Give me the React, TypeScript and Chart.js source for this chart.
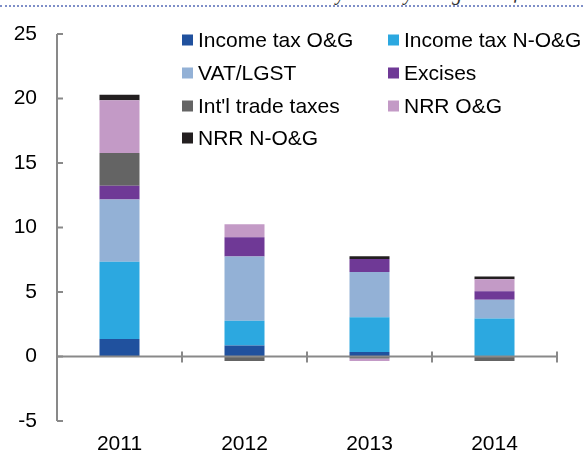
import React, { useEffect, useRef } from "react";
import { Chart, registerables } from "chart.js";

Chart.register(...registerables);

const categories = ["2011", "2012", "2013", "2014"];
const incomeTaxOG = [1.35, 0.85, 0.35, 0];
const incomeTaxNOG = [6.0, 1.93, 2.7, 2.95];
const vatLGST = [4.83, 4.98, 3.5, 1.45];
const excises = [1.05, 1.49, 1.0, 0.65];
const intlTrade = [2.55, -0.35, -0.15, -0.35];
const nrrOG = [4.08, 1.0, -0.2, 0.93];
const nrrNOG = [0.44, 0, 0.23, 0.23];

const yMin = -5;
const yMax = 25;
const yStep = 5;

const seriesNames = [
  "Income tax O&G",
  "Income tax N-O&G",
  "VAT/LGST",
  "Excises",
  "Int'l trade taxes",
  "NRR O&G",
  "NRR N-O&G",
];
const seriesColors = [
  "#20519E",
  "#2CA8E0",
  "#93B1D6",
  "#6F3996",
  "#646464",
  "#C39AC6",
  "#231F20",
];

const FONT = "'Liberation Sans', Arial, sans-serif";
const FS = 21;
const AXIS = "#898989";

const axesPlugin = {
  id: "customAxes",
  afterDatasetsDraw(chart: any) {
    const { ctx, chartArea, scales } = chart;
    const y = scales.y;
    const y0 = y.getPixelForValue(0);
    ctx.save();
    ctx.strokeStyle = AXIS;
    ctx.lineWidth = 2;
    ctx.beginPath();
    ctx.moveTo(chartArea.left, y.getPixelForValue(yMax));
    ctx.lineTo(chartArea.left, y.getPixelForValue(yMin));
    ctx.stroke();
    for (let v = yMin; v <= yMax; v += yStep) {
      const py = y.getPixelForValue(v);
      ctx.beginPath();
      ctx.moveTo(chartArea.left, py);
      ctx.lineTo(chartArea.left + 6, py);
      ctx.stroke();
    }
    ctx.beginPath();
    ctx.moveTo(chartArea.left, y0);
    ctx.lineTo(chartArea.right, y0);
    ctx.stroke();
    const n = categories.length;
    const w = (chartArea.right - chartArea.left) / n;
    for (let i = 1; i <= n; i++) {
      const px = chartArea.left + i * w;
      ctx.beginPath();
      ctx.moveTo(px, y0 - 5);
      ctx.lineTo(px, y0 + 6);
      ctx.stroke();
    }
    ctx.restore();
  },
};

const legendPlugin = {
  id: "customLegend",
  afterDraw(chart: any) {
    const { ctx } = chart;
    const cols = [182, 388];
    const rowY = [40, 73, 106, 138];
    ctx.save();
    ctx.font = `${FS}px ${FONT}`;
    ctx.textBaseline = "middle";
    chart.data.datasets.forEach((ds: any, i: number) => {
      const cx = cols[i % 2];
      const cy = rowY[Math.floor(i / 2)];
      ctx.fillStyle = ds.backgroundColor;
      ctx.fillRect(cx, cy - 5.5, 11, 11);
      ctx.fillStyle = "#000";
      ctx.fillText(ds.label, cx + 16, cy + 1);
    });
    ctx.restore();
  },
};

export default function App() {
  const ref = useRef<HTMLCanvasElement | null>(null);
  useEffect(() => {
    document.body.style.margin = "0";
    const values = [incomeTaxOG, incomeTaxNOG, vatLGST, excises, intlTrade, nrrOG, nrrNOG];
    const chart = new Chart(ref.current as HTMLCanvasElement, {
      type: "bar",
      data: {
        labels: categories,
        datasets: values.map((d, i) => ({
          label: seriesNames[i],
          data: d,
          backgroundColor: seriesColors[i],
          borderWidth: 0,
          barPercentage: 0.32,
          categoryPercentage: 1,
        })),
      },
      options: {
        animation: false,
        responsive: false,
        maintainAspectRatio: false,
        layout: { padding: { left: 0, right: 26, top: 34, bottom: 0 } },
        plugins: {
          legend: { display: false },
          tooltip: { enabled: false },
        },
        scales: {
          x: {
            stacked: true,
            grid: { display: false, drawTicks: false },
            border: { display: false },
            ticks: { color: "#000", font: { size: FS, family: FONT }, padding: 11 },
            afterFit: (s: any) => {
              s.height = 34;
            },
          },
          y: {
            stacked: true,
            min: yMin,
            max: yMax,
            grid: { display: false, drawTicks: false },
            border: { display: false },
            ticks: {
              stepSize: yStep,
              color: "#000",
              font: { size: FS, family: FONT },
              padding: 20,
            },
            afterFit: (s: any) => {
              s.width = 57;
            },
          },
        },
      },
      plugins: [axesPlugin, legendPlugin],
    });
    return () => chart.destroy();
  }, []);

  const frag = (ch: string, left: number) => (
    <span
      style={{
        position: "absolute",
        left,
        top: -17,
        fontFamily: "'Liberation Serif', serif",
        fontStyle: "italic",
        fontSize: 20,
        lineHeight: "20px",
        color: "#333",
      }}
    >
      {ch}
    </span>
  );

  return (
    <div style={{ position: "relative", width: 583, height: 455, background: "#fff", overflow: "hidden" }}>
      <div style={{ position: "absolute", left: 0, top: 0, width: 583, height: 6, overflow: "hidden" }}>
        {frag("y", 336)}
        {frag("y", 404)}
        {frag("g", 452)}
        {frag("ƒ", 512)}
      </div>
      <div
        style={{
          position: "absolute",
          left: 0,
          top: 5,
          width: 583,
          height: 0,
          borderTop: "2px dotted #7F8FC8",
        }}
      />
      <canvas ref={ref} width={583} height={455} style={{ position: "absolute", left: 0, top: 0 }} />
    </div>
  );
}
